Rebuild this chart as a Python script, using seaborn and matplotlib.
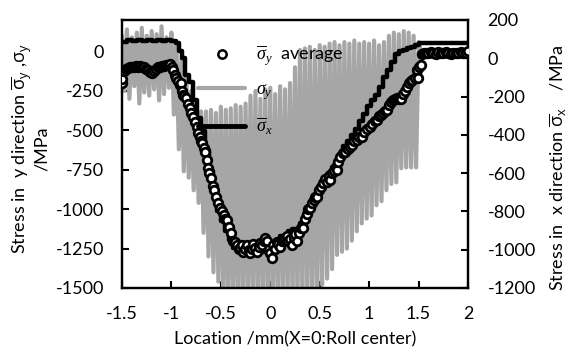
import matplotlib
matplotlib.use("Agg")
import matplotlib.pyplot as plt
from matplotlib.lines import Line2D
import seaborn as sns
import numpy as np

# sigma_y (gray, left axis): spike tops at spike_x, spike bottoms half a step later
spike_x = [-1.50, -1.45, -1.40, -1.35, -1.30, -1.25, -1.20, -1.15, -1.10, -1.05,
           -1.00, -0.95, -0.90, -0.85, -0.80, -0.75, -0.70, -0.65, -0.60, -0.55,
           -0.50, -0.45, -0.40, -0.35, -0.30, -0.25, -0.20, -0.15, -0.10, -0.05,
           0.00, 0.05, 0.10, 0.15, 0.20, 0.25, 0.30, 0.35, 0.40, 0.45,
           0.50, 0.55, 0.60, 0.65, 0.70, 0.75, 0.80, 0.85, 0.90, 0.95,
           1.00, 1.05, 1.10, 1.15, 1.20, 1.25, 1.30, 1.35, 1.40, 1.45, 1.50]
gray_top = [100, 140, 90, 120, 150, 100, 130, 110, 160, 90,
            120, 60, -50, -150, -250, -330, -380, -380, -370, -390,
            -350, -370, -360, -340, -350, -330, -280, -250, -300, -240,
            -230, -270, -220, -240, -200, -100, 10, 20, 30, 10,
            40, 30, 50, 60, 40, 60, 50, 70, 50, 60,
            50, 70, 40, 60, 100, 120, 110, 130, 120, 100, 60]
gray_bottom = [-250, -300, -220, -330, -260, -280, -240, -310, -270, -230,
               -400, -620, -760, -800, -880, -960, -1150, -1300, -1400, -1460,
               -1600, -1600, -1600, -1600, -1600, -1600, -1600, -1600, -1600, -1600,
               -1600, -1600, -1600, -1600, -1600, -1600, -1600, -1600, -1600, -1600,
               -1480, -1440, -1380, -1290, -1270, -1250, -1200, -1140, -1090, -1060,
               -1040, -975, -950, -880, -840, -830, -740, -735, -735, -735, 0]
gray_tail_x = [2.0]
gray_tail_y = [0]

# sigma_x bar (black, right axis)
sx_x = [-1.50, -1.45, -1.40, -1.35, -1.30, -1.25, -1.20, -1.15, -1.10, -1.05,
        -1.00, -0.95, -0.92, -0.89, -0.86, -0.82, -0.78, -0.74, -0.70, -0.66,
        -0.62, -0.58, -0.54, -0.50, -0.46, -0.42, -0.38, -0.34, -0.30, -0.26,
        -0.22, -0.18, -0.14, -0.10, -0.06, -0.02, 0.02, 0.06, 0.10, 0.14,
        0.18, 0.22, 0.26, 0.30, 0.34, 0.38, 0.42, 0.46, 0.50, 0.54,
        0.58, 0.62, 0.66, 0.70, 0.74, 0.78, 0.82, 0.86, 0.90, 0.94,
        0.98, 1.02, 1.06, 1.10, 1.14, 1.18, 1.22, 1.26, 1.30, 1.34,
        1.38, 1.42, 1.46, 1.50, 1.55, 2.00]
sx_y = [85, 95, 88, 96, 90, 97, 88, 95, 90, 97,
        92, 80, 40, 0, -88, -125, -220, -314, -380, -480,
        -590, -700, -800, -850, -900, -950, -990, -1000, -1010, -1020,
        -1000, -1020, -990, -1010, -980, -1000, -960, -970, -930, -940,
        -900, -890, -900, -860, -820, -770, -740, -700, -660, -640,
        -600, -570, -530, -500, -460, -430, -400, -370, -330, -290,
        -250, -220, -190, -150, -100, -60, -20, 20, 40, 45,
        55, 60, 70, 80, 80, 80]

# sigma_y bar average (circles, left axis)
avg_x = [-1.500, -1.495, -1.475, -1.455, -1.435, -1.415, -1.395, -1.375, -1.355, -1.335,
         -1.315, -1.295, -1.275, -1.255, -1.235, -1.215, -1.195, -1.175, -1.155, -1.135,
         -1.115, -1.095, -1.075, -1.055, -1.035, -1.015, -0.995, -0.980, -0.965, -0.950,
         -0.934, -0.918, -0.903, -0.890, -0.883, -0.868, -0.853, -0.835, -0.812, -0.797,
         -0.782, -0.760, -0.745, -0.731, -0.715, -0.700, -0.691, -0.675, -0.660, -0.645,
         -0.630, -0.615, -0.600, -0.580, -0.565, -0.545, -0.525, -0.509, -0.490, -0.470,
         -0.455, -0.438, -0.420, -0.400, -0.377, -0.360, -0.340, -0.320, -0.306, -0.290,
         -0.276, -0.260, -0.240, -0.220, -0.205, -0.190, -0.170, -0.150, -0.134, -0.115,
         -0.100, -0.084, -0.065, -0.050, -0.033, -0.015, 0.000, 0.017, 0.030, 0.048,
         0.065, 0.080, 0.098, 0.115, 0.130, 0.149, 0.165, 0.179, 0.200, 0.220,
         0.240, 0.255, 0.270, 0.290, 0.310, 0.331, 0.350, 0.370, 0.385, 0.402,
         0.420, 0.440, 0.456, 0.472, 0.490, 0.510, 0.533, 0.550, 0.570, 0.590,
         0.604, 0.620, 0.640, 0.660, 0.675, 0.690, 0.710, 0.735, 0.755, 0.775,
         0.790, 0.806, 0.830, 0.850, 0.877, 0.900, 0.928, 0.950, 0.975, 1.009,
         1.030, 1.055, 1.079, 1.100, 1.120, 1.140, 1.160, 1.181, 1.200, 1.220,
         1.241, 1.260, 1.280, 1.300, 1.322, 1.340, 1.360, 1.383, 1.400, 1.420,
         1.433, 1.460, 1.480, 1.494, 1.500, 1.524, 1.535, 1.550, 1.575, 1.600,
         1.625, 1.650, 1.675, 1.700, 1.725, 1.750, 1.775, 1.800, 1.825, 1.850,
         1.875, 1.900, 1.925, 1.950, 1.975, 2.000]
avg_y = [-200, -175, -125, -110, -105, -100, -95, -100, -92, -98,
         -90, -95, -100, -108, -120, -132, -135, -125, -110, -100,
         -95, -92, -90, -88, -85, -82, -95, -120, -147, -170,
         -190, -210, -200, -250, -275, -285, -295, -330, -357, -390,
         -415, -450, -480, -515, -540, -570, -580, -610, -640, -690,
         -740, -770, -800, -850, -880, -920, -960, -990, -1010, -1040,
         -1060, -1070, -1110, -1150, -1200, -1210, -1230, -1250, -1244, -1230,
         -1270, -1250, -1230, -1260, -1280, -1250, -1220, -1245, -1270, -1240,
         -1215, -1230, -1200, -1180, -1200, -1250, -1280, -1310, -1230, -1250,
         -1210, -1220, -1240, -1200, -1190, -1180, -1170, -1200, -1190, -1230,
         -1180, -1160, -1200, -1150, -1120, -1117, -1060, -1030, -1000, -990,
         -960, -940, -925, -925, -880, -860, -836, -810, -830, -790,
         -817, -770, -760, -730, -753, -700, -670, -645, -640, -610,
         -620, -606, -590, -570, -560, -540, -542, -510, -490, -479,
         -460, -440, -434, -410, -400, -389, -380, -370, -340, -320,
         -306, -300, -295, -300, -300, -270, -250, -223, -200, -185,
         -179, -170, -120, -166, -100, -83, -15, -10, -8, -12,
         -5, -10, -14, -6, -10, -12, -5, -9, -13, -7,
         -10, -12, -6, -10, -8, 5]

sns.set_theme(style="white")
plt.rcParams['font.family'] = ['Lato', 'DejaVu Sans']
plt.rcParams['mathtext.fontset'] = 'custom'
plt.rcParams['mathtext.rm'] = 'Open Sans'
plt.rcParams['mathtext.sf'] = 'Open Sans'
plt.rcParams['mathtext.it'] = 'Liberation Serif:italic'
plt.rcParams['text.color'] = 'black'
plt.rcParams['axes.labelcolor'] = 'black'
plt.rcParams['xtick.color'] = 'black'
plt.rcParams['ytick.color'] = 'black'
plt.rcParams['axes.unicode_minus'] = False

gray = '#a6a6a6'
fs = 13

fig = plt.figure(figsize=(5.7, 3.56), dpi=100)
ax = fig.add_subplot(111)
fig.subplots_adjust(left=122 / 570, right=468 / 570, bottom=1 - 288 / 356, top=1 - 20 / 356)

# gray sigma_y built from the read tops and bottoms
gx = np.column_stack([spike_x, np.array(spike_x) + 0.025]).ravel()
gy = np.column_stack([gray_top, gray_bottom]).ravel()
gx = np.concatenate([gx, gray_tail_x])
gy = np.concatenate([gy, gray_tail_y])
sns.lineplot(x=gx, y=gy, ax=ax, color=gray, linewidth=3.0, sort=False, estimator=None)

# right axis: sigma_x bar
ax2 = ax.twinx()
sns.lineplot(x=sx_x, y=sx_y, ax=ax2, color='black', linewidth=3.2, sort=False,
             estimator=None, drawstyle='steps-post')

# top layer: averaged circles in left-axis units
ax3 = ax.twinx()
sns.scatterplot(x=avg_x, y=avg_y, ax=ax3, s=38, facecolor='white', edgecolor='black',
                linewidth=2.0, zorder=5)

ax.set_xlim(-1.5, 2.0)
ax.set_ylim(-1500, 200)
ax2.set_ylim(-1200, 200)
ax3.set_ylim(-1500, 200)
ax3.set_yticks([])
ax3.set_ylabel('')
for s in ax3.spines.values():
    s.set_visible(False)

ax.set_xticks([-1.5, -1, -0.5, 0, 0.5, 1, 1.5, 2])
ax.set_xticklabels(['-1.5', '-1', '-0.5', '0', '0.5', '1', '1.5', '2'])
ax.set_yticks(np.arange(-1500, 1, 250))
ax2.set_yticks(np.arange(-1200, 201, 200))

ax.tick_params(axis='x', bottom=True, direction='in', length=5, width=1.5, labelsize=fs, pad=13)
ax.tick_params(axis='y', left=True, direction='in', length=5, width=1.5, labelsize=fs, pad=13)
ax2.tick_params(axis='y', right=True, direction='in', length=5, width=1.5, labelsize=fs, pad=14)
for a in (ax, ax2):
    for s in a.spines.values():
        s.set_linewidth(1.6)
        s.set_color('black')

ax.set_xlabel('Location /mm(X=0:Roll center)', fontsize=fs, labelpad=7)
ax.set_ylabel('Stress in  y direction $\\overline{\\mathrm{\\sigma}}_\\mathrm{y}$ ,$\\mathrm{\\sigma}_\\mathrm{y}$\n/MPa',
              fontsize=fs, linespacing=1.0)
ax.yaxis.set_label_coords(-0.207, 0.52)
ax2.set_ylabel('Stress in  x direction $\\overline{\\mathrm{\\sigma}}_\\mathrm{x}$    /MPa', fontsize=fs)
ax2.yaxis.set_label_coords(1.232, 0.45)

handles = [
    Line2D([], [], linestyle='none', marker='o', markersize=6, markerfacecolor='white',
           markeredgecolor='black', markeredgewidth=1.8),
    Line2D([], [], color=gray, linewidth=3),
    Line2D([], [], color='black', linewidth=3.5),
]
labels = ['$\\overline{\\sigma}_y$  average', '$\\sigma_y$', '$\\overline{\\sigma}_x$']
ax3.legend(handles, labels, loc='upper left', bbox_to_anchor=(0.2, 0.94), frameon=False,
           fontsize=fs, handlelength=2.6, labelspacing=0.75, handletextpad=0.6,
           borderaxespad=0)

fig.savefig('out.png', dpi=100)
